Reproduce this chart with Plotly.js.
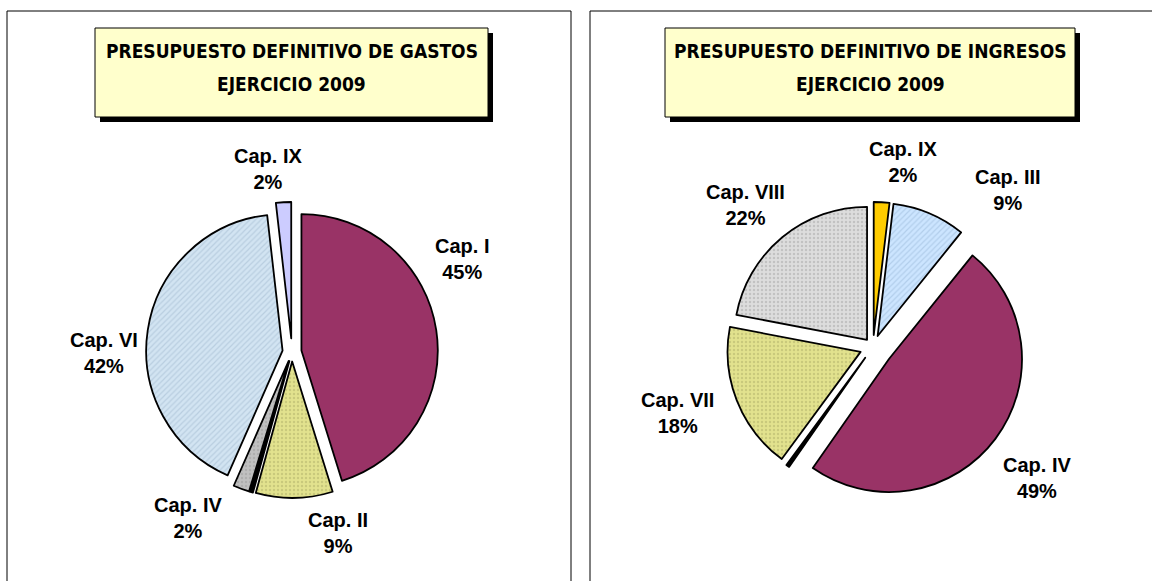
<!DOCTYPE html>
<html><head><meta charset="utf-8">
<script src="https://cdn.plot.ly/plotly-3.0.1.min.js"></script>
<style>html,body{margin:0;padding:0;background:#fff}#chart{width:1152px;height:581px}</style>
</head><body><div id="chart"></div>
<script>
// Gastos (left pie)
const gastosLabels = ["Cap. I", "Cap. II", "Cap. III", "Cap. IV", "Cap. VI", "Cap. IX"];
const gastosValues = [45.2, 9.1, 0.4, 1.9, 41.6, 1.8];
const gastosColors = ["#993366", "#E2E28E", "#000000", "#C0C0C0", "#D2E4F2", "#CCCCFF"];
const gastosPatternColors = ["#993366", "#B8B870", "#000000", "#A0A0A0", "#A8C0D4", "#CCCCFF"];
const gastosPattern = ["", ".", "", ".", "/", ""];
const gastosPull = [0.07, 0.07, 0.07, 0.07, 0.07, 0.1];
const gastosShow = [true, true, false, true, true, true];

// Ingresos (right pie)
const ingresosLabels = ["Cap. IX", "Cap. III", "Cap. IV", "Cap. VI", "Cap. VII", "Cap. VIII"];
const ingresosValues = [1.9, 8.9, 48.9, 0.4, 17.9, 22.0];
const ingresosColors = ["#FFCC00", "#CCE5FF", "#993366", "#000000", "#E2E28E", "#DDDDDD"];
const ingresosPatternColors = ["#FFCC00", "#A0BEDD", "#993366", "#000000", "#B8B870", "#AFAFAF"];
const ingresosPattern = ["", "/", "", "", ".", "."];
const ingresosPull = [0.09, 0.09, 0.15, 0.1, 0.1, 0.07];
const ingresosShow = [true, true, true, false, true, true];

const titleLeft = ["PRESUPUESTO DEFINITIVO DE GASTOS", "EJERCICIO 2009"];
const titleRight = ["PRESUPUESTO DEFINITIVO DE INGRESOS", "EJERCICIO 2009"];

const W = 1152, H = 581;
const px = x => x / W;
const py = y => 1 - y / H;

function pieTrace(labels, values, colors, fgColors, pattern, pull, dom) {
  return {
    type: 'pie', labels: labels, values: values, sort: false, direction: 'clockwise',
    rotation: 0, pull: pull,
    marker: {colors: colors, line: {color: '#000', width: 1.8},
      pattern: {shape: pattern, bgcolor: colors, fgcolor: fgColors, fgopacity: 0.6,
        size: 4, solidity: 0.3, fillmode: 'overlay'}},
    textinfo: 'none',
    hoverinfo: 'label+percent',
    showlegend: false,
    automargin: false,
    domain: dom
  };
}

const data = [
  pieTrace(gastosLabels, gastosValues, gastosColors, gastosPatternColors, gastosPattern, gastosPull,
    {x: [px(142), px(442)], y: [py(502), py(202)]}),
  pieTrace(ingresosLabels, ingresosValues, ingresosColors, ingresosPatternColors, ingresosPattern, ingresosPull,
    {x: [px(720), px(1026)], y: [py(500), py(194)]})
];

function rect(x0, y0, x1, y1, fill, lineW) {
  return {type: 'rect', xref: 'paper', yref: 'paper', x0: px(x0), x1: px(x1), y0: py(y1), y1: py(y0),
    fillcolor: fill, line: {color: '#000', width: lineW}, layer: 'above'};
}

const shapes = [
  rect(7, 11, 571, 600, 'rgba(0,0,0,0)', 1),
  rect(590, 11, 1170, 600, 'rgba(0,0,0,0)', 1),
  rect(100, 33, 493, 122, '#000', 0),
  rect(95, 28, 488, 117, '#FFFFCC', 1),
  rect(670, 33, 1080, 122, '#000', 0),
  rect(665, 28, 1075, 117, '#FFFFCC', 1)
];

const tfont = {family: 'DejaVu Sans Condensed, DejaVu Sans, sans-serif', size: 19, color: '#000', weight: 'bold'};
const lfont = {family: 'Arial, Liberation Sans, sans-serif', size: 20, color: '#000', weight: 'bold'};
function ann(text, x, y, font) {
  return {text: text, xref: 'paper', yref: 'paper', x: px(x), y: py(y), xanchor: 'center', yanchor: 'middle',
    showarrow: false, font: font};
}

// label positions (layout only), text built from the data arrays
const gastosLabelPos = [[462, 259], [338, 533], null, [188, 518], [104, 353], [268, 169]];
const ingresosLabelPos = [[903, 162], [1008, 190], [1037, 478], null, [677, 413], [745, 205]];

function labelAnns(labels, values, show, pos) {
  const total = values.reduce((a, b) => a + b, 0);
  const out = [];
  labels.forEach((l, i) => {
    if (!show[i] || !pos[i]) return;
    const pct = Math.round(values[i] / total * 100);
    out.push(ann(l + '<br>' + pct + '%', pos[i][0], pos[i][1], lfont));
  });
  return out;
}

const annotations = [
  ann(titleLeft[0], 291.5, 51, tfont), ann(titleLeft[1], 291.5, 84, tfont),
  ann(titleRight[0], 870, 51, tfont), ann(titleRight[1], 870, 84, tfont)
].concat(labelAnns(gastosLabels, gastosValues, gastosShow, gastosLabelPos))
 .concat(labelAnns(ingresosLabels, ingresosValues, ingresosShow, ingresosLabelPos));

const layout = {
  width: W, height: H, margin: {l: 0, r: 0, t: 0, b: 0},
  paper_bgcolor: '#fff', plot_bgcolor: '#fff',
  shapes: shapes, annotations: annotations, showlegend: false
};

Plotly.newPlot('chart', data, layout, {displayModeBar: false, staticPlot: true});
</script></body></html>
